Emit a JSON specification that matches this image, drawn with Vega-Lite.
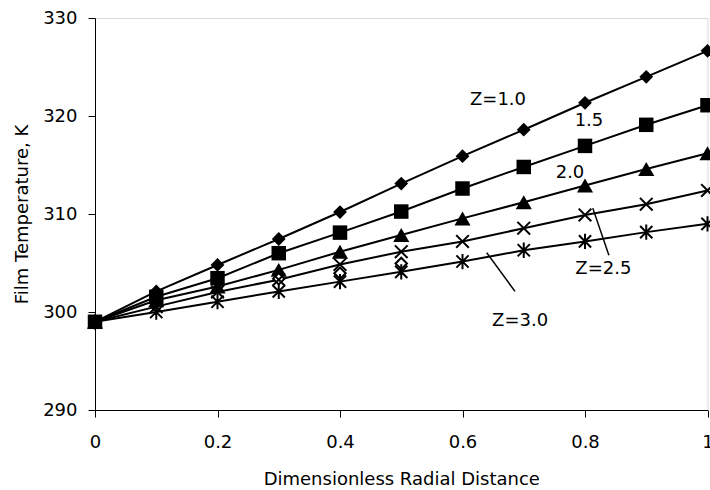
{
  "$schema": "https://vega.github.io/schema/vega-lite/v6.json",
  "autosize": {"type": "none"},
  "width": 612.5,
  "height": 392,
  "padding": {"left": 95, "top": 18, "right": 2.5, "bottom": 80},
  "background": "white",
  "config": {
    "view": {"stroke": "#d9d9d9", "strokeWidth": 1},
    "font": "DejaVu Sans",
    "axis": {
      "domainColor": "black", "tickColor": "black", "grid": false,
      "labelFont": "DejaVu Sans", "titleFont": "DejaVu Sans",
      "labelFontSize": 18, "titleFontSize": 18, "labelColor": "black", "titleColor": "black",
      "titleFontWeight": "normal", "tickSize": 7, "domainWidth": 1, "tickWidth": 1
    }
  },
  "datasets": {
    "curves": [
      {"r": 0.0, "T": 299.0, "s": "Z=1.0"},
      {"r": 0.1, "T": 302.1, "s": "Z=1.0"},
      {"r": 0.2, "T": 304.8, "s": "Z=1.0"},
      {"r": 0.3, "T": 307.45, "s": "Z=1.0"},
      {"r": 0.4, "T": 310.2, "s": "Z=1.0"},
      {"r": 0.5, "T": 313.1, "s": "Z=1.0"},
      {"r": 0.6, "T": 315.9, "s": "Z=1.0"},
      {"r": 0.7, "T": 318.6, "s": "Z=1.0"},
      {"r": 0.8, "T": 321.35, "s": "Z=1.0"},
      {"r": 0.9, "T": 324.0, "s": "Z=1.0"},
      {"r": 1.0, "T": 326.65, "s": "Z=1.0"},
      {"r": 0.0, "T": 299.0, "s": "Z=1.5"},
      {"r": 0.1, "T": 301.55, "s": "Z=1.5"},
      {"r": 0.2, "T": 303.45, "s": "Z=1.5"},
      {"r": 0.3, "T": 306.0, "s": "Z=1.5"},
      {"r": 0.4, "T": 308.1, "s": "Z=1.5"},
      {"r": 0.5, "T": 310.25, "s": "Z=1.5"},
      {"r": 0.6, "T": 312.6, "s": "Z=1.5"},
      {"r": 0.7, "T": 314.8, "s": "Z=1.5"},
      {"r": 0.8, "T": 316.95, "s": "Z=1.5"},
      {"r": 0.9, "T": 319.1, "s": "Z=1.5"},
      {"r": 1.0, "T": 321.1, "s": "Z=1.5"},
      {"r": 0.0, "T": 299.0, "s": "Z=2.0"},
      {"r": 0.1, "T": 301.2, "s": "Z=2.0"},
      {"r": 0.2, "T": 302.6, "s": "Z=2.0"},
      {"r": 0.3, "T": 304.3, "s": "Z=2.0"},
      {"r": 0.4, "T": 306.15, "s": "Z=2.0"},
      {"r": 0.5, "T": 307.85, "s": "Z=2.0"},
      {"r": 0.6, "T": 309.55, "s": "Z=2.0"},
      {"r": 0.7, "T": 311.2, "s": "Z=2.0"},
      {"r": 0.8, "T": 312.9, "s": "Z=2.0"},
      {"r": 0.9, "T": 314.6, "s": "Z=2.0"},
      {"r": 1.0, "T": 316.2, "s": "Z=2.0"},
      {"r": 0.0, "T": 299.0, "s": "Z=2.5"},
      {"r": 0.1, "T": 300.55, "s": "Z=2.5"},
      {"r": 0.2, "T": 302.05, "s": "Z=2.5"},
      {"r": 0.3, "T": 303.3, "s": "Z=2.5"},
      {"r": 0.4, "T": 304.85, "s": "Z=2.5"},
      {"r": 0.5, "T": 306.15, "s": "Z=2.5"},
      {"r": 0.6, "T": 307.2, "s": "Z=2.5"},
      {"r": 0.7, "T": 308.55, "s": "Z=2.5"},
      {"r": 0.8, "T": 309.9, "s": "Z=2.5"},
      {"r": 0.9, "T": 311.0, "s": "Z=2.5"},
      {"r": 1.0, "T": 312.4, "s": "Z=2.5"},
      {"r": 0.0, "T": 299.0, "s": "Z=3.0"},
      {"r": 0.1, "T": 300.0, "s": "Z=3.0"},
      {"r": 0.2, "T": 301.05, "s": "Z=3.0"},
      {"r": 0.3, "T": 302.1, "s": "Z=3.0"},
      {"r": 0.4, "T": 303.1, "s": "Z=3.0"},
      {"r": 0.5, "T": 304.1, "s": "Z=3.0"},
      {"r": 0.6, "T": 305.15, "s": "Z=3.0"},
      {"r": 0.7, "T": 306.3, "s": "Z=3.0"},
      {"r": 0.8, "T": 307.2, "s": "Z=3.0"},
      {"r": 0.9, "T": 308.15, "s": "Z=3.0"},
      {"r": 1.0, "T": 309.0, "s": "Z=3.0"}
    ],
    "extra": [
      {"r": 0.3, "T": 303.4},
      {"r": 0.4, "T": 303.95},
      {"r": 0.5, "T": 304.95}
    ],
    "labels": [
      {"r": 0.658, "T": 321.6, "text": "Z=1.0"},
      {"r": 0.8065, "T": 319.5, "text": "1.5"},
      {"r": 0.7755, "T": 314.2, "text": "2.0"},
      {"r": 0.830, "T": 304.35, "text": "Z=2.5"},
      {"r": 0.694, "T": 299.05, "text": "Z=3.0"}
    ],
    "leaders": [
      {"r": 0.8127, "T": 310.6, "r2": 0.839, "T2": 305.8},
      {"r": 0.6395, "T": 306.05, "r2": 0.6857, "T2": 302.1}
    ]
  },
  "layer": [
    {
      "data": {"name": "curves"},
      "mark": {"type": "line", "color": "black", "strokeWidth": 2},
      "encoding": {
        "x": {"field": "r", "type": "quantitative", "scale": {"domain": [0, 1], "nice": false},
              "axis": {"values": [0, 0.2, 0.4, 0.6, 0.8, 1], "format": "~g", "title": "Dimensionless Radial Distance", "labelPadding": 16, "titlePadding": 19, "labelFlush": false}},
        "y": {"field": "T", "type": "quantitative", "scale": {"domain": [290, 330], "nice": false, "zero": false},
              "axis": {"values": [290, 300, 310, 320, 330], "title": "Film Temperature, K", "labelPadding": 11, "titlePadding": 11}},
        "detail": {"field": "s"}
      }
    },
    {
      "data": {"name": "curves"},
      "transform": [{"filter": "datum.s === 'Z=1.0'"}],
      "mark": {"type": "point", "shape": "diamond", "filled": true, "color": "black", "opacity": 1, "size": 190},
      "encoding": {
        "x": {"field": "r", "type": "quantitative"},
        "y": {"field": "T", "type": "quantitative"}
      }
    },
    {
      "data": {"name": "curves"},
      "transform": [{"filter": "datum.s === 'Z=1.5'"}],
      "mark": {"type": "point", "shape": "square", "filled": true, "color": "black", "opacity": 1, "size": 210},
      "encoding": {
        "x": {"field": "r", "type": "quantitative"},
        "y": {"field": "T", "type": "quantitative"}
      }
    },
    {
      "data": {"name": "curves"},
      "transform": [{"filter": "datum.s === 'Z=2.0'"}],
      "mark": {"type": "point", "shape": "triangle-up", "filled": true, "color": "black", "opacity": 1, "size": 260},
      "encoding": {
        "x": {"field": "r", "type": "quantitative"},
        "y": {"field": "T", "type": "quantitative"}
      }
    },
    {
      "data": {"name": "extra"},
      "mark": {"type": "point", "shape": "diamond", "filled": false, "fill": "white", "fillOpacity": 1, "color": "black", "strokeWidth": 2, "size": 130, "opacity": 1},
      "encoding": {
        "x": {"field": "r", "type": "quantitative"},
        "y": {"field": "T", "type": "quantitative"}
      }
    },
    {
      "data": {"name": "curves"},
      "transform": [{"filter": "datum.s === 'Z=2.5'"}],
      "mark": {"type": "point", "shape": "M-1,-1L1,1M-1,1L1,-1", "filled": false, "color": "black", "strokeWidth": 2, "opacity": 1, "size": 160},
      "encoding": {
        "x": {"field": "r", "type": "quantitative"},
        "y": {"field": "T", "type": "quantitative"}
      }
    },
    {
      "data": {"name": "curves"},
      "transform": [{"filter": "datum.s === 'Z=3.0'"}],
      "mark": {"type": "point", "shape": "M-1,-1L1,1M-1,1L1,-1M0,-1.25L0,1.25", "filled": false, "color": "black", "strokeWidth": 2, "opacity": 1, "size": 150},
      "encoding": {
        "x": {"field": "r", "type": "quantitative"},
        "y": {"field": "T", "type": "quantitative"}
      }
    },
    {
      "data": {"name": "leaders"},
      "mark": {"type": "rule", "color": "black", "strokeWidth": 1.5},
      "encoding": {
        "x": {"field": "r", "type": "quantitative"},
        "y": {"field": "T", "type": "quantitative"},
        "x2": {"field": "r2"},
        "y2": {"field": "T2"}
      }
    },
    {
      "data": {"name": "labels"},
      "mark": {"type": "text", "font": "DejaVu Sans", "fontSize": 18, "color": "black", "align": "center", "baseline": "middle"},
      "encoding": {
        "x": {"field": "r", "type": "quantitative"},
        "y": {"field": "T", "type": "quantitative"},
        "text": {"field": "text"}
      }
    }
  ]
}
